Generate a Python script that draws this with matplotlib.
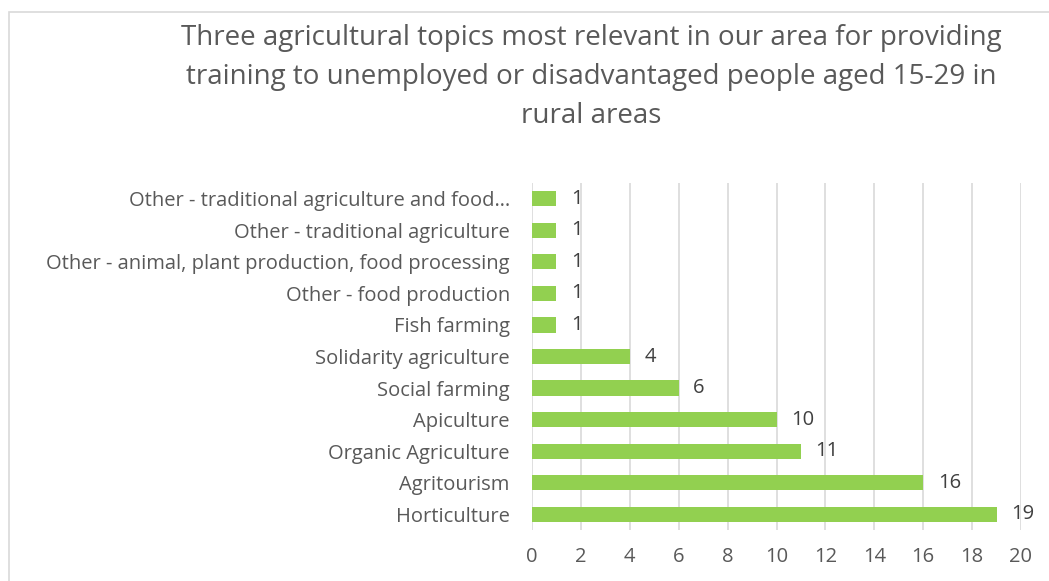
import matplotlib.pyplot as plt
from matplotlib.patches import Rectangle

# topics, bottom to top as drawn
topics = ['Horticulture', 'Agritourism', 'Organic Agriculture', 'Apiculture',
          'Social farming', 'Solidarity agriculture', 'Fish farming',
          'Other - food production',
          'Other - animal, plant production, food processing',
          'Other - traditional agriculture',
          'Other - traditional agriculture and food\u2026']
counts = [19, 16, 11, 10, 6, 4, 1, 1, 1, 1, 1]
xticks = list(range(0, 21, 2))

plt.rcParams['font.family'] = ['Open Sans', 'DejaVu Sans']
text_col = '#595959'

fig = plt.figure(figsize=(10.49, 5.81), dpi=100)
fig.patches.append(Rectangle((9 / 1049, -0.1), 1.2, 1 - 12 / 581 + 0.1,
                             transform=fig.transFigure, fill=False,
                             edgecolor='#d9d9d9', linewidth=1.2))

ax = fig.add_axes([532 / 1049, 1 - 530 / 581, 489 / 1049, 347 / 581])
pos = range(len(topics))
ax.barh(pos, counts, height=0.48, color='#92d050', zorder=3)
for y, v in zip(pos, counts):
    ax.text(v + 0.6, y, str(v), va='center', ha='left', fontsize=14.5,
            color='#404040')

ax.set_xlim(0, 20)
ax.set_ylim(-0.5, len(topics) - 0.5)
ax.set_xticks(xticks)
ax.set_yticks(list(pos))
ax.set_yticklabels(topics)
ax.tick_params(axis='both', length=0, labelsize=14.5, labelcolor=text_col)
ax.tick_params(axis='x', pad=12)
ax.tick_params(axis='y', pad=16)
ax.grid(axis='x', color='#d9d9d9', linewidth=1.2, zorder=0)
for s in ax.spines.values():
    s.set_visible(False)

fig.text(591 / 1049, 1 - 77 / 581,
         'Three agricultural topics most relevant in our area for providing\n'
         'training to unemployed or disadvantaged people aged 15-29 in\n'
         'rural areas',
         ha='center', va='center', fontsize=20, color=text_col,
         linespacing=1.52)

fig.savefig('out.png', dpi=100)
